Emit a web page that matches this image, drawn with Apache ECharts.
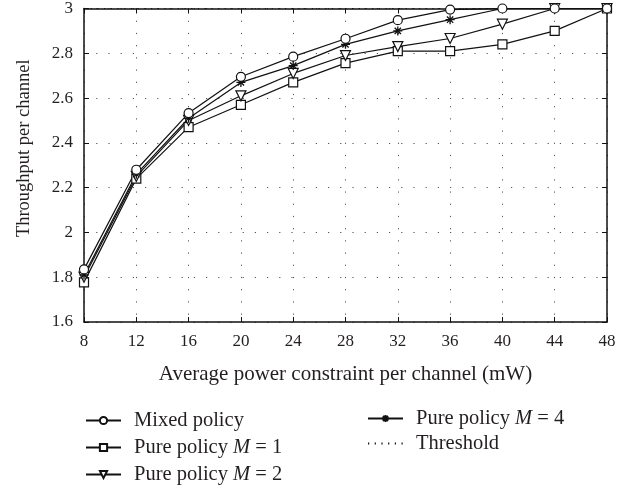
<!DOCTYPE html>
<html><head><meta charset="utf-8">
<script src="https://cdn.jsdelivr.net/npm/echarts@6/dist/echarts.min.js"></script>
<style>html,body{margin:0;padding:0;background:#fff}#c{width:637px;height:486px}</style>
</head><body><div id="c"></div>
<script>
const powers = [8, 12, 16, 20, 24, 28, 32, 36, 40, 44, 48];
const mixedPolicy = [1.835, 2.28, 2.533, 2.695, 2.785, 2.865, 2.948, 2.995, 3.0, 3.0, 3.0];
const purePolicyM1 = [1.777, 2.24, 2.47, 2.57, 2.67, 2.756, 2.81, 2.81, 2.84, 2.90, 3.0];
const purePolicyM2 = [1.80, 2.25, 2.50, 2.61, 2.71, 2.79, 2.83, 2.866, 2.93, 3.0, 3.0];
const purePolicyM4 = [1.81, 2.26, 2.51, 2.67, 2.745, 2.84, 2.90, 2.95, 3.0, 3.0, 3.0];
const threshold = [3, 3, 3, 3, 3, 3, 3, 3, 3, 3, 3];
const seriesNames = ['Mixed policy', 'Pure policy M = 1', 'Pure policy M = 2', 'Pure policy M = 4', 'Threshold'];
const xTitle = 'Average power constraint per channel (mW)';
const yTitle = 'Throughput per channel';

const FONT = 'Liberation Serif';
const TXT = '#231f20';
const star = 'path://M5,0 L5,10 M0,5 L10,5 M1.5,1.5 L8.5,8.5 M8.5,1.5 L1.5,8.5';
const pair = a => powers.map((x, i) => [x, a[i]]);

function mk(name, data, symbol, extra) {
  return Object.assign({
    name, type: 'line', data: pair(data), symbol, symbolSize: 9, clip: false,
    showSymbol: true,
    lineStyle: { color: '#111', width: 1.2 },
    itemStyle: { color: '#fff', borderColor: '#111', borderWidth: 1.2 },
    emphasis: { disabled: true }, animation: false
  }, extra || {});
}

const legendFmt = n => n.replace(/ M = /, ' {i|M} = ');
const legendText = { fontFamily: FONT, fontSize: 20.5, color: TXT, padding: [0, 0, 0, 8],
  rich: { i: { fontFamily: FONT, fontStyle: 'italic', fontSize: 20.5, color: TXT } } };

const chart = echarts.init(document.getElementById('c'), null, { renderer: 'canvas' });
chart.setOption({
  animation: false,
  backgroundColor: '#fff',
  grid: { left: 84, right: 30, top: 6, bottom: 164 },
  legend: [
    { data: [seriesNames[0], seriesNames[1], seriesNames[2]], orient: 'vertical', left: 85, top: 410,
      itemWidth: 35, itemHeight: 9, itemGap: 6, padding: 0, formatter: legendFmt, textStyle: legendText },
    { data: [seriesNames[3], seriesNames[4]], orient: 'vertical', left: 367, top: 408,
      itemWidth: 35, itemHeight: 9, itemGap: 4, padding: 0, formatter: legendFmt, textStyle: legendText }
  ],
  xAxis: [
    { type: 'value', min: 8, max: 48, interval: 4, position: 'bottom',
      name: xTitle, nameLocation: 'middle', nameGap: 42,
      nameTextStyle: { fontFamily: FONT, fontSize: 21, color: TXT },
      axisLine: { lineStyle: { color: '#111', width: 1.5 } },
      axisTick: { inside: true, length: 5, lineStyle: { color: '#111' } },
      axisLabel: { fontFamily: FONT, fontSize: 17, color: TXT, margin: 11 },
      splitLine: { show: true, lineStyle: { color: '#555', width: 1, type: [1.2, 11] } } },
    { type: 'value', min: 8, max: 48, interval: 4, position: 'top',
      axisLine: { lineStyle: { color: '#111', width: 1.5 } },
      axisTick: { inside: true, length: 5, lineStyle: { color: '#111' } },
      axisLabel: { show: false }, splitLine: { show: false } }
  ],
  yAxis: [
    { type: 'value', min: 1.6, max: 3, interval: 0.2, position: 'left',
      name: yTitle, nameLocation: 'middle', nameGap: 50,
      nameTextStyle: { fontFamily: FONT, fontSize: 18.5, color: TXT, padding: [0, 0, 0, 34] },
      axisLine: { show: true, lineStyle: { color: '#111', width: 1.5 } },
      axisTick: { show: true, inside: true, length: 5, lineStyle: { color: '#111' } },
      axisLabel: { fontFamily: FONT, fontSize: 17, color: TXT, margin: 11,
        formatter: v => String(Math.round(v * 10) / 10) },
      splitLine: { show: true, lineStyle: { color: '#555', width: 1, type: [1.2, 11] } } },
    { type: 'value', min: 1.6, max: 3, interval: 0.2, position: 'right',
      axisLine: { show: true, lineStyle: { color: '#111', width: 1.5 } },
      axisTick: { show: true, inside: true, length: 5, lineStyle: { color: '#111' } },
      axisLabel: { show: false }, splitLine: { show: false } }
  ],
  series: [
    mk(seriesNames[4], threshold, 'none', { lineStyle: { color: '#111', width: 1, type: [1.2, 5.5] },
      itemStyle: { color: '#111', opacity: 0 }, z: 1 }),
    mk(seriesNames[1], purePolicyM1, 'rect', { symbolSize: 9 }),
    mk(seriesNames[2], purePolicyM2, 'triangle', { symbolRotate: 180, symbolSize: 10 }),
    mk(seriesNames[3], purePolicyM4, star, { symbolSize: 9, itemStyle: { color: '#111', borderColor: '#111', borderWidth: 1.3 } }),
    mk(seriesNames[0], mixedPolicy, 'circle', { symbolSize: 9 })
  ]
});
</script></body></html>
